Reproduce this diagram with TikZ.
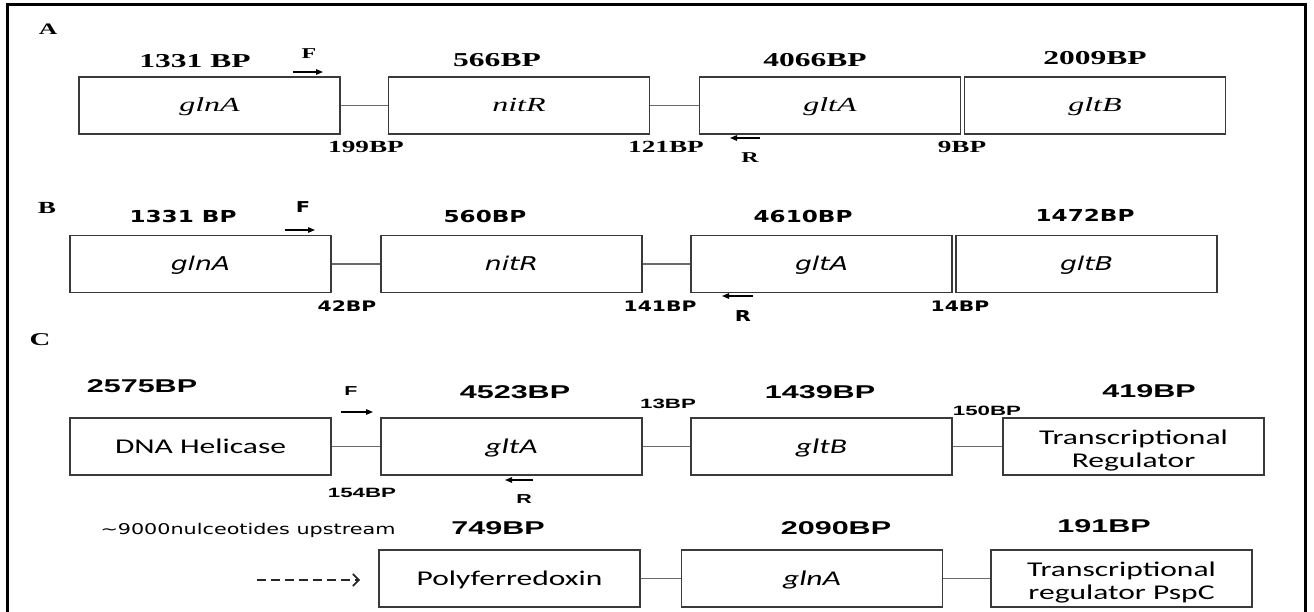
\documentclass[tikz,border=0pt]{standalone}
\usepackage{fontspec}
\usetikzlibrary{arrows.meta}
\setmainfont{Liberation Serif}[FakeStretch=1.6]
\newfontfamily\vfont{DejaVu Sans}[FakeStretch=1.4]
\newfontfamily\afont{Liberation Sans}[FakeStretch=1.65]
\newfontfamily\cfont{Carlito}[FakeStretch=1.5]
\definecolor{boxline}{HTML}{3A3A3A}
\definecolor{connline}{HTML}{6A6A6A}
\newcommand{\fs}[1]{\fontsize{#1}{#1}\selectfont}
\newcommand{\twolines}[2]{\parbox[t]{250pt}{\centering\fontsize{21}{23}\selectfont #1\\#2}}
\tikzset{
  genebox/.style={draw=boxline, line width=1.2pt, minimum height=57pt, minimum width=261pt, inner sep=0pt, text height=13pt, text depth=0pt},
  twoline/.style={draw=boxline, line width=1.2pt, minimum height=57pt, minimum width=261pt, inner sep=0pt, text height=15pt, text depth=20pt},
  conn/.style={draw=connline, line width=1.5pt},
  primer/.style={draw=black, line width=1.3pt, -{Triangle[length=7pt,width=5.5pt]}},
  lbl/.style={inner sep=0pt, anchor=base},
  tA/.style={lbl, font=\fs{19.7}\bfseries},
  sA/.style={lbl, font=\fs{17}\bfseries},
  tB/.style={lbl, font=\vfont\fs{16.5}\bfseries},
  sB/.style={lbl, font=\vfont\fs{14.5}\bfseries},
  tC/.style={lbl, font=\afont\fs{18.5}\bfseries},
  sC/.style={lbl, font=\afont\fs{13.5}\bfseries},
}
\begin{document}
\begin{tikzpicture}[x=1pt,y=-1pt]
\useasboundingbox (0,0) rectangle (1314,612);
\fill[white] (0,0) rectangle (1314,612);
% frame
\draw[line width=3pt, black] (7,640) -- (7,5) -- (1305,5) -- (1305,640);

% ---------------- Row A ----------------
\node[lbl, font=\fs{16}\bfseries] (labA) at (48,35) {A};
\node[genebox, font=\fs{20}\itshape] (a1) at (209.5,105.5) {glnA};
\node[genebox, font=\fs{20}\itshape] (a2) at (519,105.5) {nitR};
\node[genebox, font=\fs{20}\itshape] (a3) at (830,105.5) {gltA};
\node[genebox, font=\fs{20}\itshape] (a4) at (1095,105.5) {gltB};
\draw[conn] (a1.east) -- (a2.west);
\draw[conn] (a2.east) -- (a3.west);
\node[tA] (a1s) at (195,68) {1331 BP};
\node[tA] (a2s) at (497,67) {566BP};
\node[tA] (a3s) at (815,67) {4066BP};
\node[tA] (a4s) at (1095,65) {2009BP};
\node[sA] (a12) at (366,153) {199BP};
\node[sA] (a23) at (666,153) {121BP};
\node[sA] (a34) at (962,153) {9BP};
\node[lbl, font=\fs{15}\bfseries] (aF) at (309,59) {F};
\coordinate (aF1) at (293,72); \coordinate (aF2) at (323,72);
\draw[primer] (aF1) -- (aF2);
\node[lbl, font=\fs{15}\bfseries] (aR) at (750,163) {R};
\coordinate (aR1) at (760,138); \coordinate (aR2) at (730,138);
\draw[primer] (aR1) -- (aR2);

% ---------------- Row B ----------------
\node[lbl, font=\fs{17}\bfseries] (labB) at (47,214) {B};
\node[genebox, font=\vfont\fs{19}\itshape] (b1) at (200.5,264) {glnA};
\node[genebox, font=\vfont\fs{19}\itshape] (b2) at (511.5,264) {nitR};
\node[genebox, font=\vfont\fs{19}\itshape] (b3) at (821.5,264) {gltA};
\node[genebox, font=\vfont\fs{19}\itshape] (b4) at (1086.5,264) {gltB};
\draw[conn] (b1.east) -- (b2.west);
\draw[conn] (b2.east) -- (b3.west);
\node[tB] (b1s) at (183,223) {1331 BP};
\node[tB] (b2s) at (485,223) {560BP};
\node[tB] (b3s) at (803,223) {4610BP};
\node[tB] (b4s) at (1085,222) {1472BP};
\node[sB] (b12) at (347,312) {42BP};
\node[sB] (b23) at (660,312) {141BP};
\node[sB] (b34) at (960,312) {14BP};
\node[lbl, font=\vfont\fs{15}\bfseries] (bF) at (303,213) {F};
\coordinate (bF1) at (285,230); \coordinate (bF2) at (315,230);
\draw[primer] (bF1) -- (bF2);
\node[lbl, font=\vfont\fs{15}\bfseries] (bR) at (743,321) {R};
\coordinate (bR1) at (753,296); \coordinate (bR2) at (722,296);
\draw[primer] (bR1) -- (bR2);

% ---------------- Row C ----------------
\node[lbl, font=\fs{18}\bfseries] (labC) at (40,345) {C};
\node[genebox, font=\cfont\fs{21}] (c1) at (200.5,446.5) {DNA Helicase};
\node[genebox, font=\cfont\fs{21}\itshape] (c2) at (511.5,446.5) {gltA};
\node[genebox, font=\cfont\fs{21}\itshape] (c3) at (821.5,446.5) {gltB};
\node[twoline, font=\cfont] (c4) at (1133.5,446.5) {\twolines{Transcriptional}{Regulator}};
\draw[conn] (c1.east) -- (c2.west);
\draw[conn] (c2.east) -- (c3.west);
\draw[conn] (c3.east) -- (c4.west);
\node[tC] (c1s) at (142,392) {2575BP};
\node[tC] (c2s) at (515,398) {4523BP};
\node[tC] (c3s) at (820,398) {1439BP};
\node[tC] (c4s) at (1149,397) {419BP};
\node[sC] (c12) at (362,497) {154BP};
\node[sC] (c23) at (668,408) {13BP};
\node[sC] (c34) at (987,415) {150BP};
\node[lbl, font=\afont\fs{13}\bfseries] (cF) at (351,395) {F};
\coordinate (cF1) at (341,412); \coordinate (cF2) at (373,412);
\draw[primer] (cF1) -- (cF2);
\node[lbl, font=\afont\fs{13}\bfseries] (cR) at (524,503) {R};
\coordinate (cR1) at (533,480); \coordinate (cR2) at (505,480);
\draw[primer] (cR1) -- (cR2);

% ---------------- Row D ----------------
\node[lbl, font=\vfont\fs{14.8}] (up) at (248,534) {\textasciitilde 9000nulceotides upstream};
\node[genebox, font=\cfont\fs{21}] (d1) at (509.5,578.5) {Polyferredoxin};
\node[genebox, font=\cfont\fs{21}\itshape] (d2) at (812,578.5) {glnA};
\node[twoline, font=\cfont] (d3) at (1121.5,578.5) {\twolines{Transcriptional}{regulator PspC}};
\draw[conn] (d1.east) -- (d2.west);
\draw[conn] (d2.east) -- (d3.west);
\node[tC] (d1s) at (498,534) {749BP};
\node[tC] (d2s) at (836,534) {2090BP};
\node[tC] (d3s) at (1104,532) {191BP};
\coordinate (dash1) at (257,580); \coordinate (dash2) at (360,580);
\draw[line width=1.6pt, black!85, dash pattern=on 9pt off 5pt, -{Straight Barb[length=6pt,width=12pt]}] (dash1) -- (dash2);
\end{tikzpicture}
\end{document}
